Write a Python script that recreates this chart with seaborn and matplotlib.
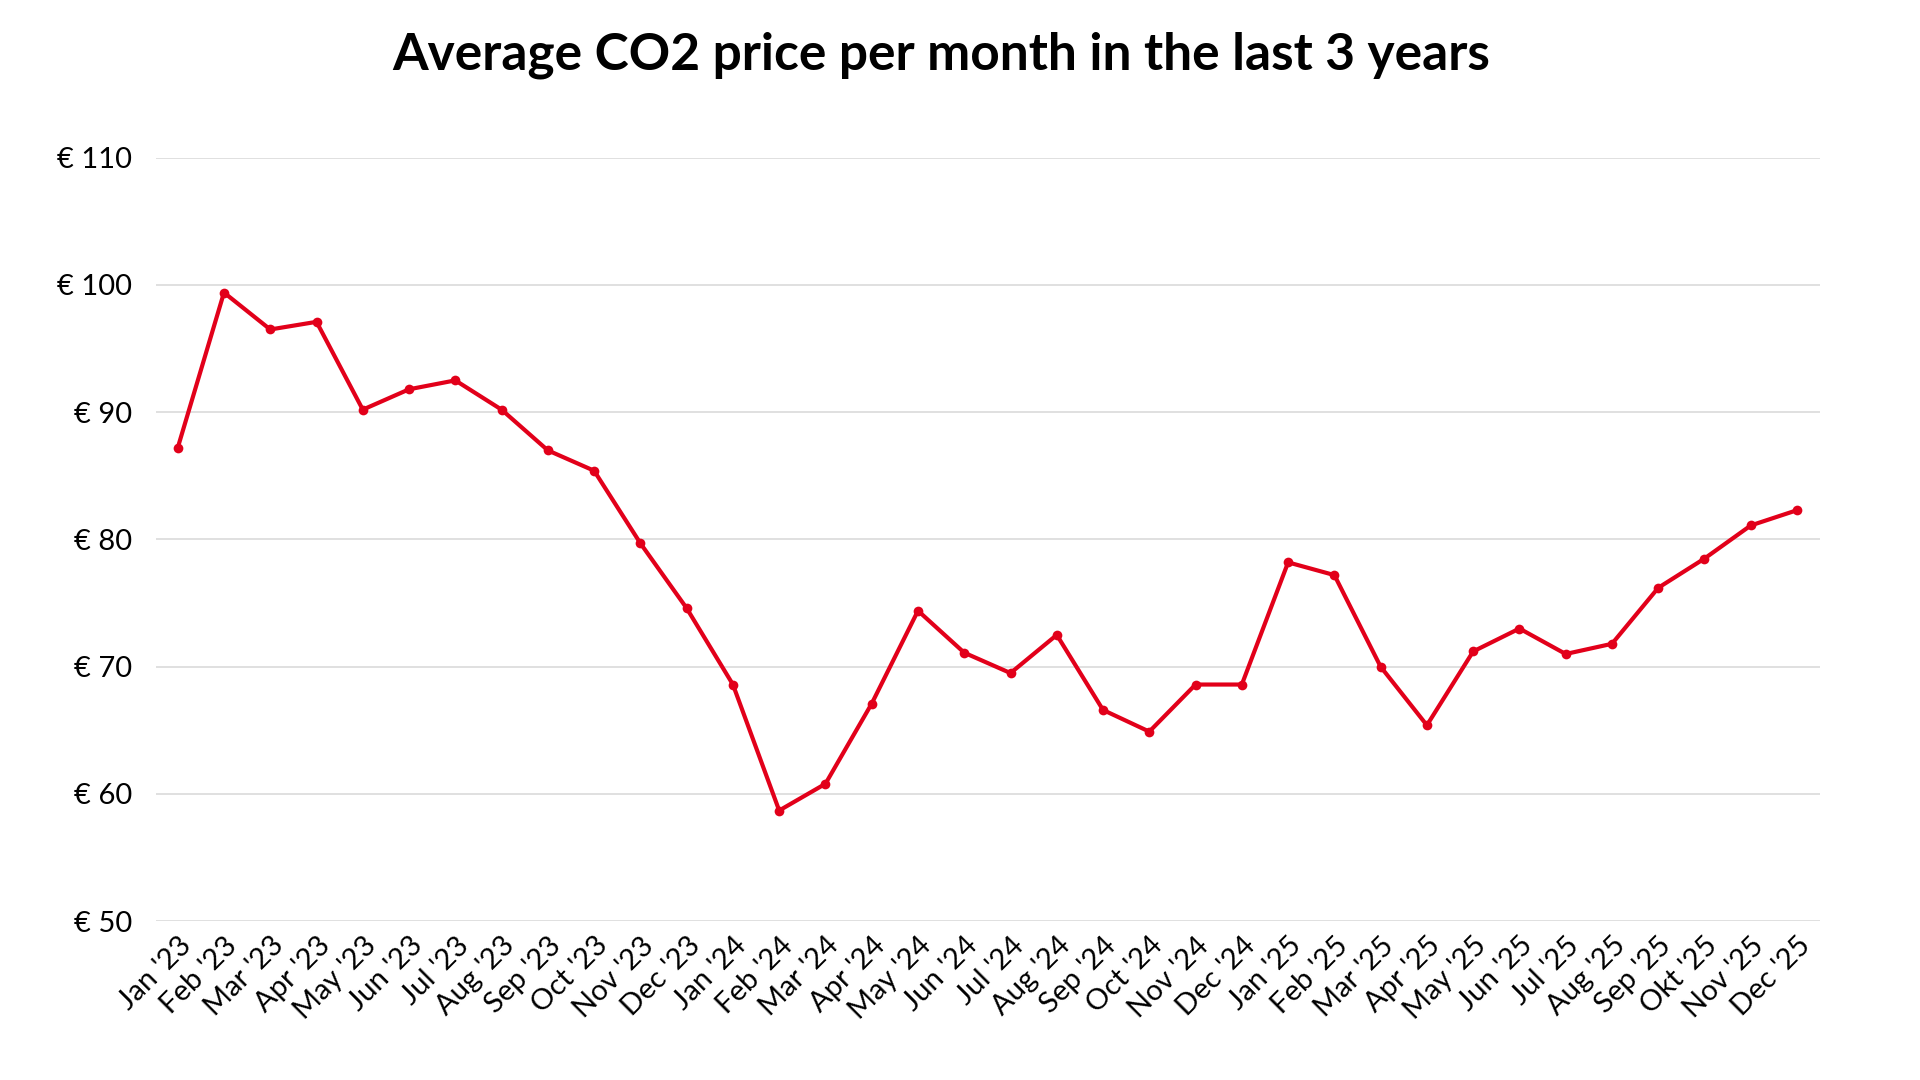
import seaborn as sns
import pandas as pd
import matplotlib.pyplot as plt

months = ["Jan '23", "Feb '23", "Mar '23", "Apr '23", "May '23", "Jun '23",
          "Jul '23", "Aug '23", "Sep '23", "Oct '23", "Nov '23", "Dec '23",
          "Jan '24", "Feb '24", "Mar '24", "Apr '24", "May '24", "Jun '24",
          "Jul '24", "Aug '24", "Sep '24", "Oct '24", "Nov '24", "Dec '24",
          "Jan '25", "Feb '25", "Mar '25", "Apr '25", "May '25", "Jun '25",
          "Jul '25", "Aug '25", "Sep '25", "Okt '25", "Nov '25", "Dec '25"]
prices = [87.2, 99.4, 96.5, 97.1, 90.2, 91.8, 92.5, 90.2, 87.0, 85.4, 79.7, 74.6,
          68.6, 58.7, 60.8, 67.1, 74.4, 71.1, 69.5, 72.5, 66.6, 64.9, 68.6, 68.6,
          78.2, 77.2, 70.0, 65.4, 71.2, 73.0, 71.0, 71.8, 76.2, 78.5, 81.1, 82.3]
y_ticks = [50, 60, 70, 80, 90, 100, 110]

df = pd.DataFrame({"idx": range(len(months)), "month": months, "price": prices})

sns.set_theme(style="white")
plt.rcParams["font.family"] = ["Lato", "DejaVu Sans"]

fig, ax = plt.subplots(figsize=(19.2, 10.8), dpi=100)
fig.subplots_adjust(left=0.081, right=0.948, top=0.854, bottom=0.147)

sns.lineplot(data=df, x="idx", y="price", ax=ax, color="#E2001A",
             linewidth=3.0, marker="o", markersize=7, markeredgewidth=0)

ax.set_ylim(50, 110)
ax.set_yticks(y_ticks)
ax.set_yticklabels([f"€ {v}" for v in y_ticks])
ax.set_xlim(-0.48, len(months) - 0.5)
ax.set_xticks(df["idx"])
ax.set_xticklabels(months, rotation=45, ha="right", rotation_mode="anchor")
ax.tick_params(axis="y", labelsize=21, length=0, pad=17, labelcolor="black")
ax.tick_params(axis="x", labelsize=21, length=0, pad=8, labelcolor="black")
ax.grid(axis="y", color="#DDDDDD", linewidth=1.3)
ax.set_axisbelow(True)
for s in ax.spines.values():
    s.set_visible(False)
ax.set_xlabel("")
ax.set_ylabel("")

fig.suptitle("Average CO2 price per month in the last 3 years", fontsize=37,
             fontweight="bold", color="black", x=0.49, y=0.949, va="center")

fig.savefig("out.png", dpi=100)
